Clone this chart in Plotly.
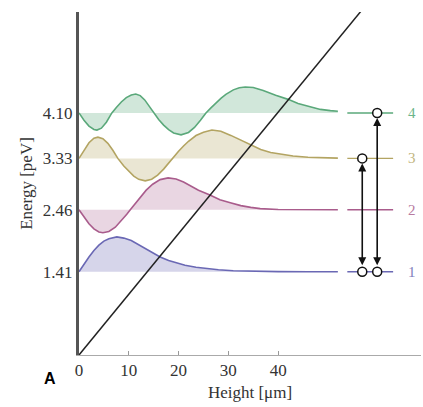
import plotly.graph_objects as go

# ---- data ----
levels = [1, 2, 3, 4]
energies = [1.41, 2.46, 3.33, 4.10]          # peV
tick_labels = ["1.41", "2.46", "3.33", "4.10"]

# wavefunction displacement (peV) above each level's energy, vs height (um)
h1 = [0, 1, 2, 3, 4, 5, 6, 7.6, 9, 10.5, 12, 13.5, 15, 16.3, 18, 19.5, 21.3, 23.5, 25.9, 28, 31, 35, 40, 46, 52]
p1 = [0, 0.13, 0.25, 0.36, 0.45, 0.52, 0.56, 0.59, 0.57, 0.53, 0.46, 0.38, 0.31, 0.25, 0.19, 0.15, 0.11, 0.075, 0.05, 0.033, 0.018, 0.008, 0.003, 0, 0]

h2 = [0, 1, 2, 3, 4, 4.8, 6, 7.3, 8.8, 9.6, 10.3, 11.5, 12.5, 13.5, 14.8, 16.3, 17.9, 19.5, 21, 22.5, 24, 26.3, 28.3, 30.4, 32.5, 34.5, 36.4, 40, 45, 52]
p2 = [0, -0.125, -0.237, -0.324, -0.377, -0.39, -0.367, -0.295, -0.162, -0.077, 0, 0.132, 0.237, 0.332, 0.433, 0.511, 0.54, 0.52, 0.47, 0.40, 0.33, 0.25, 0.17, 0.12, 0.07, 0.04, 0.02, 0.005, 0, 0]

h3 = [0, 1, 2, 3, 3.8, 4.8, 5.8, 6.8, 7.8, 9, 10, 11, 12, 13.3, 14.6, 15.8, 17, 18.7, 20, 21, 22, 23.5, 25, 26.7, 28.5, 30.5, 32.5, 34.4, 36.5, 38.5, 40.5, 43, 46, 49, 52]
p3 = [0, 0.144, 0.265, 0.341, 0.36, 0.333, 0.255, 0.138, 0, -0.128, -0.223, -0.301, -0.354, -0.38, -0.353, -0.284, -0.181, 0, 0.121, 0.210, 0.290, 0.388, 0.443, 0.48, 0.46, 0.39, 0.31, 0.22, 0.15, 0.10, 0.07, 0.04, 0.02, 0.01, 0.005]

h4 = [0, 1, 2, 3, 3.6, 4.5, 5.5, 6.1, 6.6, 7.5, 8.5, 9.5, 10.5, 11.4, 12.3, 13.2, 14.1, 14.9, 16, 17, 18, 19, 20.5, 22, 23.2, 24.4, 25.5, 26.5, 27.5, 28.5, 29.5, 31, 32.2, 33.4, 35, 37, 39.5, 42, 44, 46.4, 48.5, 50.5, 52]
p4 = [0, -0.123, -0.222, -0.280, -0.29, -0.258, -0.158, -0.075, 0, 0.093, 0.186, 0.259, 0.304, 0.32, 0.294, 0.221, 0.112, 0, -0.112, -0.206, -0.283, -0.338, -0.37, -0.330, -0.245, -0.125, 0, 0.087, 0.170, 0.247, 0.314, 0.391, 0.428, 0.44, 0.43, 0.38, 0.30, 0.23, 0.16, 0.10, 0.06, 0.04, 0.03]

heights = [h1, h2, h3, h4]
psis = [p1, p2, p3, p4]

# gravitational potential line
pot_h = [0, 56.7]
pot_e = [0, 5.83]

# level-diagram markers (right side)
diag_seg_x = [53.9, 63.1]
label_x = 65.6
trans_x = [56.9, 59.9]
trans_from = [1, 1]
trans_to = [3, 4]

x_ticks = [0, 10, 20, 30, 40]

strokes = ["#6a68b4", "#a95c8c", "#b3a462", "#5aa87a"]
fills = ["rgba(106,104,180,0.28)", "rgba(169,92,140,0.25)",
         "rgba(179,164,98,0.28)", "rgba(90,168,122,0.28)"]
label_cols = ["#8080bb", "#b77aa0", "#c2b57e", "#6cb58a"]

fig = go.Figure()

for i in range(4):
    E = energies[i]
    ys = [E + p for p in psis[i]]
    fig.add_trace(go.Scatter(x=[heights[i][0], heights[i][-1]], y=[E, E],
                             mode="lines", line=dict(width=0, color=strokes[i]),
                             hoverinfo="skip", showlegend=False))
    fig.add_trace(go.Scatter(x=heights[i], y=ys, mode="lines",
                             line=dict(color=strokes[i], width=1.6),
                             fill="tonexty", fillcolor=fills[i], showlegend=False))
    fig.add_trace(go.Scatter(x=diag_seg_x, y=[E, E], mode="lines",
                             line=dict(color=strokes[i], width=1.4), showlegend=False))
    fig.add_annotation(x=label_x, y=E, text=str(levels[i]), showarrow=False,
                       xanchor="left", yanchor="middle",
                       font=dict(family="Liberation Serif", size=15, color=label_cols[i]))

fig.add_trace(go.Scatter(x=pot_h, y=pot_e, mode="lines",
                         line=dict(color="#222222", width=1.5), showlegend=False))

# transitions
cx, cy = [], []
for tx, a, b in zip(trans_x, trans_from, trans_to):
    ea = energies[levels.index(a)]
    eb = energies[levels.index(b)]
    cx += [tx, tx]
    cy += [ea, eb]
    fig.add_annotation(x=tx, y=eb, ax=tx, ay=ea, xref="x", yref="y",
                       axref="x", ayref="y", text="", showarrow=True,
                       arrowhead=2, arrowside="end+start", arrowsize=1,
                       arrowwidth=1.6, arrowcolor="#111111",
                       standoff=5, startstandoff=5)

fig.add_trace(go.Scatter(x=cx, y=cy, mode="markers",
                         marker=dict(symbol="circle", size=9, color="white",
                                     line=dict(color="#111111", width=1.5)),
                         showlegend=False))

serif = dict(family="Liberation Serif", size=17, color="#333333")

# panel letter
fig.add_annotation(x=-0.085, y=-0.068, xref="paper", yref="paper", text="<b>A</b>",
                   showarrow=False, xanchor="center", yanchor="middle",
                   font=dict(family="Liberation Sans", size=16, color="black"))

fig.update_layout(
    width=423, height=407,
    margin=dict(l=79, r=2, t=12, b=52),
    paper_bgcolor="white", plot_bgcolor="white",
    showlegend=False,
    font=serif,
    xaxis=dict(range=[0, 68.7], tickvals=x_ticks, ticktext=[str(t) for t in x_ticks],
               ticks="inside", ticklen=4, tickcolor="#999999",
               showline=True, linecolor="#aaaaaa", linewidth=1,
               showgrid=False, zeroline=False, tickfont=serif, automargin=False,
               title=dict(text="Height [μm]", font=serif, standoff=6)),
    yaxis=dict(range=[0, 5.81], tickvals=energies, ticktext=tick_labels,
               ticks="", showline=True, linecolor="#555555", linewidth=3,
               showgrid=False, zeroline=False, tickfont=serif, automargin=False,
               title=dict(text="Energy [peV]", font=serif, standoff=6)),
)

fig.write_html("out.html", config={"displayModeBar": False},
               post_script="document.body.style.margin='0';document.body.style.overflow='hidden';")
